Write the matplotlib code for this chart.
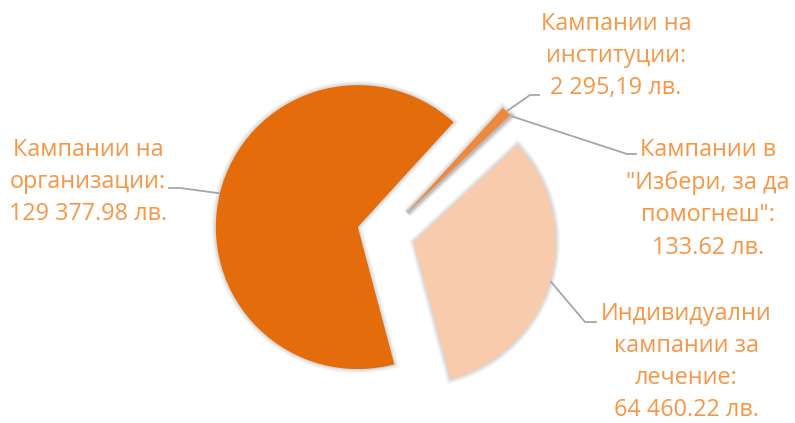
import numpy as np
import matplotlib
matplotlib.use("Agg")
import matplotlib.pyplot as plt
from matplotlib.patches import Wedge

# ---- data ----
categories = ["Кампании на\nорганизации:", "Кампании на\nинституции:",
              "Кампании в\n\"Избери, за да\nпомогнеш\":", "Индивидуални\nкампании за\nлечение:"]
values = [129377.98, 2295.19, 133.62, 64460.22]
value_labels = ["129 377.98 лв.", "2 295,19 лв.", "133.62 лв.", "64 460.22 лв."]

# ---- style / layout ----
colors = ["#E46C0A", "#EB8A3E", "#F4B183", "#F8CBAD"]
label_color = "#F79646"
line_color = "#A6A6A6"
W, H = 795, 423
center = (386, 189)
radius = 142
explode = [29, 30, 30, 29]
label_pos = [(88, 241), (616, 367), (708, 224), (686, 61)]
elbows = [((168, 235), (180, 235)), ((540, 328), (530, 328)),
          ((637, 269), (627, 269)), ((597, 101), (585, 101))]

plt.rcParams['font.family'] = ['Open Sans', 'DejaVu Sans']
fig = plt.figure(figsize=(W / 100, H / 100), dpi=100)
ax = fig.add_axes([0, 0, 1, 1])

wedges, _ = ax.pie(values, explode=explode, colors=colors, startangle=-75.1,
                   counterclock=False, radius=radius, center=center, frame=True,
                   wedgeprops=dict(linewidth=0, zorder=3))
# soft shadow around slices
for w in wedges:
    for k, a in zip([6, 4, 2], [0.04, 0.05, 0.06]):
        ax.add_patch(Wedge(w.center, w.r, w.theta1, w.theta2, facecolor='none',
                           edgecolor='black', linewidth=k, alpha=a, zorder=2))
ax.set_xlim(0, W)
ax.set_ylim(0, H)
ax.axis('off')

for i, w in enumerate(wedges):
    mid = np.deg2rad((w.theta1 + w.theta2) / 2)
    cx, cy = w.center
    ax_x = cx + w.r * np.cos(mid)
    ax_y = cy + w.r * np.sin(mid)
    (tx, ty), (ex, ey) = elbows[i]
    ax.plot([ax_x, ex, tx], [ax_y, ey, ty], color=line_color, lw=1.3,
            solid_capstyle='butt', zorder=4)
    ax.text(label_pos[i][0], label_pos[i][1], categories[i] + "\n" + value_labels[i],
            ha='center', va='center', multialignment='center', color=label_color,
            fontsize=16.8, linespacing=1.46)

fig.savefig("out.png", dpi=100)
